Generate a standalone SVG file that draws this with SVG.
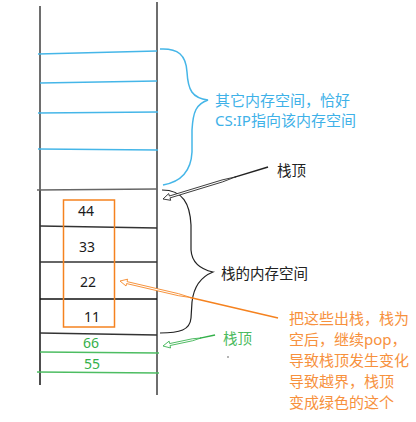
<svg xmlns="http://www.w3.org/2000/svg" width="416" height="422" viewBox="0 0 416 422">
<style>
text{font-family:"Noto Sans","Noto Sans CJK SC",sans-serif;}
.num{font-size:14px;fill:#1a1a1a;text-anchor:middle;}
.gnum{font-size:14px;fill:#33b04a;text-anchor:middle;}
.blue{stroke:#45b6e8;stroke-width:1.5;fill:none;}
.dark{stroke:#333;stroke-width:1.5;fill:none;}
.gray{stroke:#6e6e6e;stroke-width:2;fill:none;}
.green{stroke:#4dbd62;stroke-width:1.5;fill:none;}
.lbl{font-size:14.5px;}
.otxt{font-size:15px;fill:#f7913d;}
</style>
<g id="stack">
  <line class="gray" x1="40" y1="6" x2="40" y2="190"/>
  <line x1="40" y1="190" x2="40" y2="385" stroke="#3a3a3a" stroke-width="1.8"/>
  <line class="gray" x1="157" y1="2" x2="157" y2="395"/>
  <line class="blue" x1="38" y1="54" x2="157" y2="51"/>
  <line class="blue" x1="40" y1="83" x2="157" y2="81"/>
  <line class="blue" x1="38" y1="113" x2="158" y2="112"/>
  <line class="blue" x1="38" y1="149" x2="158" y2="150"/>
  <line x1="37" y1="190" x2="157" y2="189" stroke="#666" stroke-width="1.5"/>
  <line class="dark" x1="40" y1="226" x2="157" y2="228"/>
  <line class="dark" x1="40" y1="262" x2="157" y2="262"/>
  <line x1="40" y1="299" x2="157" y2="299" stroke="#111" stroke-width="1.5"/>
  <line class="dark" x1="40" y1="333" x2="157" y2="335"/>
  <line class="green" x1="40" y1="352" x2="159" y2="353"/>
  <line class="green" x1="37" y1="372" x2="159" y2="373"/>
</g>
<g id="cells">
  <rect x="63.5" y="200" width="51" height="127" fill="none" stroke="#f5821f" stroke-width="1.5"/>
  <text class="num" x="86" y="216">44</text>
  <text class="num" x="87" y="251.5">33</text>
  <text class="num" x="88" y="287">22</text>
  <text class="num" x="92" y="322">11</text>
  <text class="gnum" x="91" y="348">66</text>
  <text class="gnum" x="92" y="369">55</text>
</g>
<g id="brace-other">
  <path class="blue" d="M160,49 C178,48 186,55 187,72 C188,90 192,98 208,100 C196,104 193,112 192,130 L192,152 C191,172 180,182 163,185"/>
  <text x="215" y="106" fill="#3eb1e8" style="font-size:15px">其它内存空间，恰好</text>
  <text x="215" y="126" fill="#3eb1e8" style="font-size:15px">CS:IP指向该内存空间</text>
</g>
<g id="brace-stack">
  <path d="M162,190 C183,190 190,204 191,225 L191,250 C192,265 204,270 213,272 C203,276 194,284 192,302 L191,318 C190,330 180,333 160,333" fill="none" stroke="#222" stroke-width="1.2"/>
  <text class="lbl" x="221" y="279" fill="#222">栈的内存空间</text>
</g>
<g id="label-top">
  <text class="lbl" x="277" y="176" fill="#222">栈顶</text>
</g>
<g id="label-top-green">
  <text class="lbl" x="223" y="344" fill="#4cbb60">栈顶</text>
  <circle cx="228" cy="357" r="0.7" fill="#333"/>
</g>
<g id="label-pop">
  <text class="otxt" x="289" y="324">把这些出栈，栈为</text>
  <text class="otxt" x="289" y="345">空后，继续pop，</text>
  <text class="otxt" x="289" y="366">导致栈顶发生变化</text>
  <text class="otxt" x="289" y="387">导致越界，栈顶</text>
  <text class="otxt" x="289" y="408">变成绿色的这个</text>
</g>
<g id="connectors">
  <g transform="translate(163,199) rotate(-16.95)" stroke="#222" fill="#fff">
    <line x1="75" y1="0" x2="109.8" y2="0" stroke-width="1.5"/>
    <polygon points="0,0 7,3.5 7,1 62,1 76,0 62,-1 7,-1 7,-3.5" stroke-width="0.8"/>
  </g>
  <g transform="translate(120,281) rotate(13.18)" stroke="#f5821f" fill="#fff">
    <line x1="72" y1="0" x2="162.3" y2="0" stroke-width="1.5"/>
    <polygon points="0,0 7,3.5 7,1 60,1 73,0 60,-1 7,-1 7,-3.5" stroke-width="0.8"/>
  </g>
  <g transform="translate(163,346) rotate(-11.94)" stroke="#33b04a" fill="#fff">
    <line x1="38" y1="0" x2="53.2" y2="0" stroke-width="1.5"/>
    <polygon points="0,0 7,3.5 7,1 30,1 39,0 30,-1 7,-1 7,-3.5" stroke-width="0.8"/>
  </g>
</g>
</svg>
